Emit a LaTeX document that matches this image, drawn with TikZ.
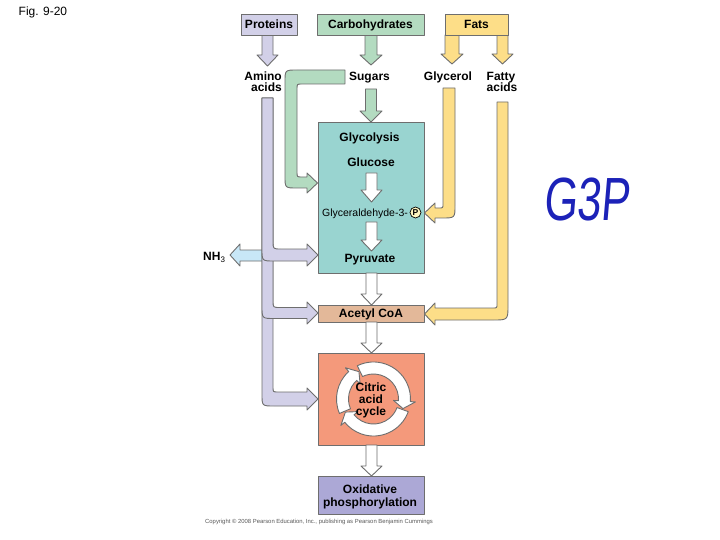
\documentclass[tikz,border=0pt]{standalone}
\usepackage{fontspec}
\usepackage{graphicx}
\setmainfont{Liberation Sans}
\newfontfamily\gtpfont{Liberation Sans}[FakeSlant=0.12]
\definecolor{protc}{HTML}{D2D0E8}
\definecolor{carbc}{HTML}{B3DBC0}
\definecolor{fatc}{HTML}{FDDE88}
\definecolor{glyc}{HTML}{99D4D0}
\definecolor{acec}{HTML}{E3B899}
\definecolor{citc}{HTML}{F4997B}
\definecolor{oxc}{HTML}{ACA8D6}
\definecolor{nhc}{HTML}{C8E7F7}
\definecolor{edgec}{HTML}{6E6E6E}
\definecolor{penc}{HTML}{1C22B8}
\definecolor{ptc}{HTML}{FFF6C0}
\newcommand\lblfont{\fontsize{12}{13}\selectfont\bfseries}
\newcommand\warrow[3]{\draw[outl, fill=white] (366,#1) -- (366,#2) -- (361,#2) -- (371.5,#3) -- (382,#2) -- (377,#2) -- (377,#1) -- cycle;}
\newcommand\ringseg[3]{\draw[outl, fill=white] (#1:37) arc[start angle=#1, end angle=#2, radius=37] -- (#2:42) -- (#3:31) -- (#2:20) -- (#2:25) arc[start angle=#2, end angle=#1, radius=25] -- cycle;}
\tikzset{
  outl/.style={draw=edgec, line width=0.9pt, line join=round},
  boxst/.style={outl, inner sep=0pt, text height=8.6pt, text depth=0pt, font=\lblfont},
  lbl/.style={inner sep=0pt, font=\lblfont},
}
\begin{document}
\begin{tikzpicture}[x=1pt,y=-1pt]
\useasboundingbox (0,0) rectangle (720,540);
\fill[white] (0,0) rectangle (720,540);

% figure label
\node[inner sep=0pt, anchor=base west, font=\fontsize{12}{13}\selectfont] (fig) at (18.5,15.5) {Fig. 9-20};

% small arrows from source boxes
\draw[outl, fill=protc] (262,35) -- (262,55) -- (257,55) -- (267.5,66) -- (278,55) -- (273,55) -- (273,35) -- cycle;
\draw[outl, fill=carbc] (365,35) -- (365,55) -- (360,55) -- (371,65) -- (382,55) -- (377,55) -- (377,35) -- cycle;
\draw[outl, fill=fatc] (445,35) -- (445,54) -- (441,54) -- (452,64) -- (463,54) -- (459,54) -- (459,35) -- cycle;
\draw[outl, fill=fatc] (497,35) -- (497,54) -- (492,54) -- (502.5,64) -- (513,54) -- (508,54) -- (508,35) -- cycle;

% source boxes
\node[boxst, fill=protc, minimum width=56pt, minimum height=21pt] (proteins) at (269,24.5) {Proteins};
\node[boxst, fill=carbc, minimum width=107pt, minimum height=21pt] (carbs) at (370.5,24.5) {Carbohydrates};
\node[boxst, fill=fatc, minimum width=63pt, minimum height=21pt] (fats) at (476.5,24.5) {Fats};

% intermediate labels
\node[lbl, anchor=base east] (amino) at (282,80.5) {Amino};
\node[lbl, anchor=base east] (aminob) at (282,92) {acids};
\node[lbl, anchor=base] (sugars) at (369.5,80.5) {Sugars};
\node[lbl, anchor=base] (glycerol) at (448,80.5) {Glycerol};
\node[lbl, anchor=base] (fatty) at (501,80.5) {Fatty};
\node[lbl, anchor=base] (fattyb) at (502,92) {acids};

% main boxes
\node[outl, fill=glyc, inner sep=0pt, minimum width=106pt, minimum height=151pt] (glybox) at (371,197.5) {};
\node[boxst, fill=acec, minimum width=106pt, minimum height=17pt] (acetyl) at (371,313.5) {Acetyl CoA};
\node[outl, fill=citc, inner sep=0pt, minimum width=106pt, minimum height=92pt] (citbox) at (371,399) {};
\node[outl, fill=oxc, inner sep=0pt, minimum width=106pt, minimum height=38pt] (oxbox) at (371,495) {};

% sugars arrow
\draw[outl, fill=carbc] (365.5,89) -- (365.5,111) -- (360,111) -- (371,122) -- (382,111) -- (376.5,111) -- (376.5,89) -- cycle;

% glycolysis contents
\node[lbl, anchor=base] (glycolysis) at (369.5,142) {Glycolysis};
\node[lbl, anchor=base] (glucose) at (371,167) {Glucose};
\warrow{173}{190}{202}
\node[inner sep=0pt, anchor=base, font=\fontsize{10.5}{11}\selectfont] (g3p) at (365,216) {Glyceraldehyde-3-};
\node[circle, draw=black, line width=0.7pt, fill=ptc, inner sep=0pt, minimum size=11pt, font=\fontsize{8.5}{9}\selectfont\bfseries] (phos) at (415.5,212.5) {P};
\warrow{222}{240}{251}
\node[lbl, anchor=base] (pyruvate) at (370,262) {Pyruvate};

% white arrows between boxes
\warrow{273}{294}{305}
\warrow{322}{343}{353}
\warrow{445}{466}{476}

% citric acid ring
\begin{scope}[shift={(373.5,399)}, yscale=-1]
\ringseg{203}{132}{118}
\ringseg{116}{-4}{-18}
\ringseg{-20}{-141}{-155}
\end{scope}
\node[lbl, anchor=base] (citric) at (371,391) {Citric};
\node[lbl, anchor=base] (acid) at (371,403) {acid};
\node[lbl, anchor=base] (cycle) at (371,415) {cycle};

% oxidative phosphorylation
\node[lbl, anchor=base] (oxid) at (370,493) {Oxidative};
\node[lbl, anchor=base] (phosph) at (370,506) {phosphorylation};

% green arrow: sugars -> glycolysis
\draw[outl, fill=carbc] (345,70) -- (297,70) .. controls (285,70) .. (285,82) -- (285,176) .. controls (285,188) .. (297,188) -- (307,188) -- (307,193) -- (317.5,183) -- (307,173) -- (307,177) -- (302,177) .. controls (297,177) .. (297,172) -- (297,89) .. controls (297,84) .. (302,84) -- (345,84) -- cycle;

% yellow arrows
\draw[outl, fill=fatc] (443,88) -- (455,88) -- (455,205) .. controls (455,218) .. (442,218) -- (435,218) -- (435,223) -- (424.5,213) -- (435,203) -- (435,208) -- (439,208) .. controls (443,208) .. (443,204) -- cycle;
\draw[outl, fill=fatc] (497,102) -- (508,102) -- (508,305) .. controls (508,320) .. (493,320) -- (435,320) -- (435,325) -- (424.5,314) -- (435,303) -- (435,308) -- (493,308) .. controls (497,308) .. (497,304) -- cycle;

% NH3 arrow
\draw[outl, fill=nhc] (268,250) -- (240,250) -- (240,244) -- (230,255) -- (240,266) -- (240,261) -- (268,261) -- cycle;
\node[lbl, anchor=base west] (nh3) at (203,260) {NH\raisebox{-2.5pt}{\fontsize{8}{8}\selectfont\mdseries 3}};

% protein trunk (three bent arrows, lowest drawn first)
\draw[outl, fill=protc] (262,98) -- (262,394) .. controls (262,406) .. (274,406) -- (307,406) -- (307,410) -- (318,399) -- (307,388) -- (307,392) -- (278,392) .. controls (273,392) .. (273,387) -- (273,98) -- cycle;
\draw[outl, fill=protc] (262,98) -- (262,306) .. controls (262,318.5) .. (274,318.5) -- (307,318.5) -- (307,324) -- (318,313) -- (307,302) -- (307,307.5) -- (280,307.5) .. controls (273,307.5) .. (273,300.5) -- (273,98) -- cycle;
\draw[outl, fill=protc] (262,98) -- (262,249) .. controls (262,261) .. (274,261) -- (307,261) -- (307,266) -- (318,255) -- (307,244) -- (307,249) -- (281,249) .. controls (273,249) .. (273,241) -- (273,98) -- cycle;

% copyright
\node[inner sep=0pt, anchor=base west, text=black!65, font=\fontsize{5.9}{6}\selectfont] (copy) at (205,523) {Copyright \copyright{} 2008 Pearson Education, Inc., publishing as Pearson Benjamin Cummings};

% handwritten note
\node[inner sep=0pt, anchor=base west, text=penc] (note) at (543,221) {\scalebox{0.71}[1]{\gtpfont\fontsize{61}{61}\selectfont G3P}};
\end{tikzpicture}
\end{document}
